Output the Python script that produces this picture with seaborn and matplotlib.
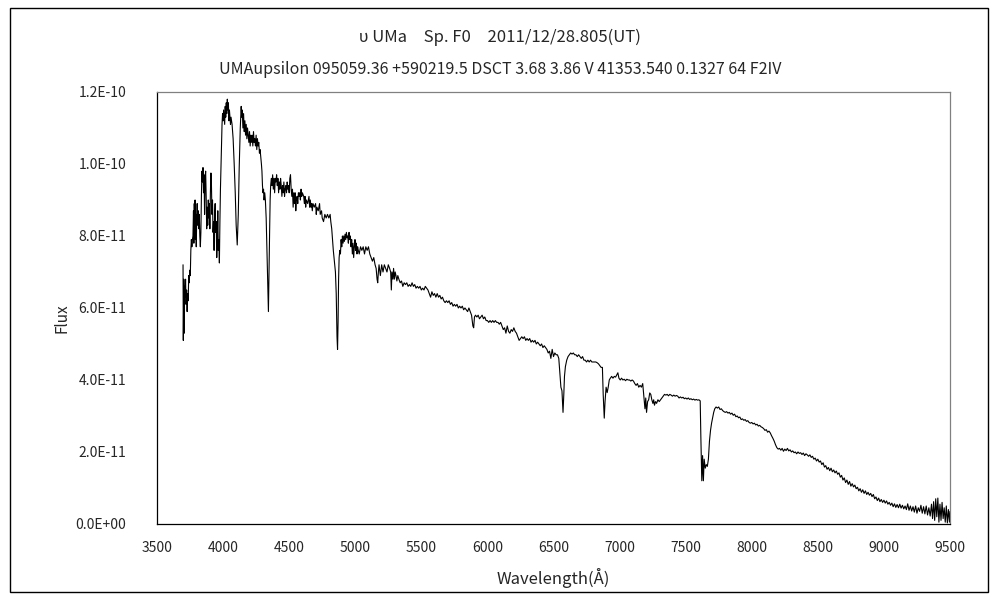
import matplotlib
matplotlib.use("Agg")
import matplotlib.pyplot as plt
import seaborn as sns
import pandas as pd
from matplotlib.patches import Rectangle
from matplotlib.ticker import FuncFormatter

sns.set_style("white")
plt.rcParams['font.family'] = ['Noto Sans CJK JP', 'DejaVu Sans']

# spectrum of upsilon UMa (flux in units of 1e-11)
wl_blue = [3697, 3699, 3703, 3706, 3709, 3713, 3716, 3720, 3724, 3728,
           3732, 3736, 3740, 3744, 3748, 3752, 3756, 3760, 3764, 3768,
           3772, 3776, 3779, 3782, 3785, 3788, 3791, 3794, 3797, 3800,
           3804, 3808, 3812, 3816, 3820, 3824, 3828, 3832, 3836, 3840,
           3844, 3848, 3852, 3856, 3860, 3864, 3868, 3872, 3876, 3880,
           3884, 3888, 3892, 3896, 3900, 3904, 3908, 3912, 3916, 3920,
           3924, 3928, 3932, 3936, 3940, 3944, 3948, 3952, 3956, 3960,
           3964, 3968, 3972, 3976, 3980, 3984, 3988, 3992, 3996, 4000,
           4004, 4008, 4012, 4016, 4020, 4024, 4028, 4032, 4036, 4040,
           4044, 4048, 4052, 4056, 4060, 4064, 4068, 4076, 4084, 4092,
           4099, 4107, 4115, 4122, 4130, 4137, 4141, 4145, 4150, 4155,
           4160, 4165, 4170, 4175, 4180, 4185, 4190, 4195, 4200, 4205,
           4210, 4215, 4220, 4225, 4230, 4235, 4240, 4245, 4250, 4255,
           4260, 4265, 4270, 4275, 4280, 4285, 4290, 4294, 4298, 4302,
           4306, 4310, 4315, 4320, 4326, 4332, 4338, 4343, 4348, 4352,
           4356, 4360, 4365, 4370, 4375, 4380, 4385, 4390, 4395, 4400]
f_blue = [7.2, 5.1, 6.8, 5.3, 6.6, 6.3, 6.8, 6.1, 6.5, 5.9,
          6.4, 6.2, 6.9, 6.7, 7.05, 6.9, 7.6, 7.9, 7.7, 7.9,
          8.0, 8.7, 7.8, 8.9, 8.1, 9.0, 7.9, 8.6, 7.7, 8.4,
          8.9, 8.3, 8.7, 8.2, 8.6, 8.0, 7.7, 8.1, 9.1, 9.8,
          9.5, 9.9, 9.2, 9.7, 8.6, 9.6, 9.8, 9.1, 8.2, 8.8,
          8.3, 9.0, 8.5, 8.9, 8.2, 9.2, 9.75, 9.4, 8.6, 9.0,
          8.1, 8.4, 7.6, 8.6, 8.9, 8.1, 8.4, 7.4, 7.9, 8.7,
          7.6, 7.9, 7.25, 8.4, 9.3, 9.9, 10.6, 11.1, 11.4, 11.2,
          11.5, 11.3, 11.1, 11.6, 11.3, 11.7, 11.4, 11.8, 11.5, 11.7,
          11.2, 11.5, 11.3, 11.1, 11.3, 11.2, 11.1, 10.7, 10.0, 9.2,
          8.3, 7.75, 8.6, 9.9, 11.0, 11.6, 11.3, 11.5, 11.0, 11.4,
          10.9, 11.2, 10.8, 11.1, 10.7, 11.0, 10.8, 10.6, 10.9, 10.5,
          10.8, 10.6, 10.8, 10.5, 10.9, 10.6, 10.7, 10.5, 10.8, 10.4,
          10.7, 10.5, 10.6, 10.3, 10.4, 10.2, 10.0, 9.8, 9.4, 9.2,
          9.3, 9.0, 9.2, 9.0, 8.5, 7.6, 6.6, 5.9, 7.2, 8.1,
          9.0, 9.4, 9.6, 9.4, 9.7, 9.3, 9.6, 9.2, 9.6, 9.5]

wl_green = [4405, 4410, 4415, 4420, 4425, 4430, 4435, 4440, 4445, 4450,
            4455, 4460, 4465, 4470, 4475, 4480, 4485, 4490, 4495, 4500,
            4505, 4510, 4515, 4520, 4525, 4530, 4535, 4540, 4545, 4550,
            4555, 4560, 4565, 4570, 4575, 4580, 4585, 4590, 4595, 4600,
            4610, 4615, 4620, 4625, 4630, 4640, 4650, 4655, 4660, 4665,
            4670, 4675, 4680, 4690, 4700, 4705, 4710, 4720, 4730, 4735,
            4745, 4750, 4760, 4770, 4780, 4790, 4800, 4810, 4815, 4822,
            4828, 4834, 4842, 4850, 4856, 4862, 4866, 4870, 4874, 4878,
            4883, 4888, 4893, 4898, 4903, 4908, 4913, 4918, 4923, 4928,
            4933, 4938, 4943, 4948, 4953, 4958, 4963, 4968, 4973, 4978,
            4983, 4988, 4993, 4998, 5003, 5008, 5013, 5018, 5023, 5030,
            5040, 5050, 5060, 5070, 5080, 5090, 5100, 5110, 5120, 5130,
            5140, 5150, 5158, 5165, 5170, 5175, 5180, 5190, 5200, 5210,
            5220, 5230, 5240, 5250, 5260, 5268, 5273, 5278, 5285, 5290]
f_green = [9.7, 9.4, 9.6, 9.2, 9.5, 9.3, 9.6, 9.4, 9.1, 9.4,
           9.2, 9.5, 9.1, 9.3, 9.4, 9.2, 9.5, 9.3, 9.4, 9.2,
           9.6, 9.7, 9.3, 9.1, 9.3, 8.8, 9.2, 8.9, 9.2, 8.7,
           9.0, 9.1, 8.9, 9.2, 9.1, 9.2, 9.0, 9.3, 9.1, 9.2,
           9.1, 8.9, 9.1, 8.8, 9.0, 8.9, 9.1, 8.8, 9.0, 8.8,
           8.9, 8.7, 8.9, 8.8, 8.9, 8.6, 8.8, 8.7, 8.9, 8.6,
           8.7, 8.5, 8.4, 8.6, 8.5, 8.6, 8.5, 8.6, 8.4, 8.2,
           7.9, 7.6, 7.3, 7.0, 6.4, 5.2, 4.85, 5.6, 6.8, 7.4,
           7.6, 7.5, 7.9, 7.7, 8.0, 7.8, 8.0, 7.85, 8.05, 7.9,
           8.1, 7.95, 8.0, 7.8, 8.1, 7.9, 8.0, 7.7, 7.9, 7.5,
           7.8, 7.4, 7.7, 7.9, 7.6, 7.8, 7.5, 7.7, 7.6, 7.5,
           7.7, 7.6, 7.7, 7.5, 7.7, 7.6, 7.7, 7.5, 7.4, 7.3,
           7.4, 7.2, 7.1, 6.8, 6.7, 7.0, 7.2, 6.9, 7.2, 7.0,
           7.2, 7.1, 7.0, 7.2, 7.1, 7.0, 6.5, 7.0, 6.8, 7.1]

wl_yellow = [5296, 5302, 5308, 5315, 5322, 5330, 5340, 5350, 5360, 5370,
             5380, 5390, 5400, 5410, 5420, 5430, 5440, 5450, 5460, 5470,
             5480, 5490, 5500, 5510, 5520, 5530, 5540, 5550, 5560, 5570,
             5580, 5590, 5600, 5610, 5620, 5630, 5640, 5650, 5660, 5670,
             5680, 5690, 5700, 5710, 5720, 5730, 5740, 5750, 5760, 5770,
             5780, 5790, 5800, 5810, 5820, 5830, 5840, 5850, 5860, 5870,
             5880, 5890, 5896, 5902, 5910, 5920, 5930, 5940, 5950, 5960,
             5970, 5980, 5990, 6000, 6010, 6020, 6030, 6040, 6050, 6060,
             6070, 6080, 6090, 6100, 6110, 6120, 6130, 6140, 6150, 6160,
             6170, 6180, 6190, 6200, 6210, 6220, 6230, 6240, 6250, 6260]
f_yellow = [6.8, 7.0, 6.9, 6.75, 6.9, 6.8, 6.7, 6.75, 6.6, 6.7,
            6.65, 6.7, 6.6, 6.65, 6.6, 6.7, 6.6, 6.65, 6.55, 6.6,
            6.55, 6.6, 6.5, 6.55, 6.5, 6.6, 6.55, 6.5, 6.4, 6.3,
            6.45, 6.35, 6.4, 6.3, 6.4, 6.3, 6.35, 6.25, 6.3, 6.2,
            6.15, 6.2, 6.15, 6.2, 6.1, 6.15, 6.05, 6.1, 6.05, 6.1,
            6.0, 6.05, 6.0, 6.05, 5.95, 6.0, 5.95, 5.9, 6.0, 5.9,
            5.8, 5.5, 5.45, 5.75, 5.8, 5.75, 5.8, 5.7, 5.75, 5.8,
            5.7, 5.75, 5.65, 5.65, 5.6, 5.65, 5.6, 5.65, 5.6, 5.65,
            5.6, 5.6, 5.55, 5.6, 5.5, 5.4, 5.45, 5.3, 5.5, 5.35,
            5.3, 5.4, 5.35, 5.45, 5.35, 5.3, 5.2, 5.1, 5.15, 5.2]

wl_red = [6270, 6280, 6290, 6300, 6310, 6320, 6330, 6340, 6350, 6360,
          6370, 6380, 6390, 6400, 6410, 6420, 6430, 6440, 6450, 6460,
          6470, 6480, 6490, 6500, 6510, 6520, 6530, 6540, 6548, 6556,
          6564, 6572, 6578, 6583, 6590, 6600, 6610, 6620, 6630, 6640,
          6650, 6660, 6670, 6680, 6690, 6700, 6710, 6720, 6730, 6740,
          6750, 6760, 6770, 6780, 6790, 6800, 6810, 6820, 6830, 6840,
          6850, 6860, 6870, 6876, 6884, 6890, 6898, 6906, 6914, 6922,
          6930, 6940, 6950, 6960, 6970, 6980, 6987, 6995, 7005, 7015,
          7025, 7035, 7045, 7055, 7065, 7075, 7085, 7095, 7105, 7115,
          7125, 7135, 7145, 7155, 7165, 7175, 7185, 7192, 7198, 7204,
          7212, 7220, 7228, 7236, 7244, 7252, 7258, 7264, 7272, 7280,
          7290, 7300, 7310, 7320, 7330, 7340, 7350, 7360, 7370, 7380,
          7390, 7400, 7410, 7420, 7430, 7440, 7450, 7460, 7470, 7480,
          7490, 7500, 7510, 7520, 7530, 7540, 7550, 7560, 7570, 7580,
          7590, 7600, 7610, 7615, 7622, 7628, 7634, 7640, 7648, 7656,
          7664, 7672, 7680, 7688, 7696, 7704, 7712, 7720, 7730, 7740,
          7750, 7760, 7770, 7780, 7790, 7800, 7810, 7820, 7830, 7840]
f_red = [5.15, 5.2, 5.1, 5.15, 5.1, 5.15, 5.05, 5.1, 5.05, 5.1,
         5.0, 5.05, 5.0, 4.95, 5.0, 4.9, 4.95, 4.9, 4.85, 4.75,
         4.8, 4.6, 4.85, 4.65, 4.75, 4.7, 4.7, 4.6, 4.2, 3.8,
         3.7, 3.1, 3.6, 4.1, 4.37, 4.55, 4.65, 4.7, 4.75, 4.72,
         4.75, 4.7, 4.7, 4.65, 4.7, 4.65, 4.6, 4.65, 4.55, 4.55,
         4.5, 4.55, 4.5, 4.55, 4.5, 4.5, 4.5, 4.5, 4.48, 4.45,
         4.4, 4.35, 4.35, 3.6, 2.94, 3.4, 3.8, 3.65, 3.8, 4.0,
         4.05, 4.1, 4.05, 4.1, 4.08, 4.15, 4.2, 4.05, 4.0, 4.05,
         4.0, 4.02, 3.98, 4.02, 4.0, 4.0, 3.97, 4.0, 3.97, 3.9,
         3.85, 3.9, 3.8, 3.85, 3.8, 3.9, 3.5, 3.2, 3.5, 3.1,
         3.4, 3.45, 3.64, 3.6, 3.45, 3.35, 3.45, 3.3, 3.4, 3.35,
         3.45, 3.4, 3.45, 3.5, 3.55, 3.6, 3.58, 3.6, 3.56, 3.6,
         3.58, 3.55, 3.58, 3.55, 3.57, 3.55, 3.5, 3.53, 3.5, 3.52,
         3.48, 3.5, 3.47, 3.5, 3.46, 3.48, 3.45, 3.47, 3.44, 3.46,
         3.44, 3.45, 3.42, 2.4, 1.2, 1.9, 1.2, 1.8, 1.55, 1.65,
         1.6, 1.8, 2.3, 2.6, 2.8, 2.95, 3.1, 3.2, 3.25, 3.22,
         3.25, 3.18, 3.2, 3.15, 3.12, 3.1, 3.12, 3.08, 3.1, 3.05]

wl_nir = [7850, 7860, 7870, 7880, 7890, 7900, 7910, 7920, 7930, 7940,
          7950, 7960, 7970, 7980, 7990, 8000, 8010, 8020, 8030, 8040,
          8050, 8060, 8070, 8080, 8090, 8100, 8110, 8120, 8130, 8140,
          8150, 8160, 8170, 8180, 8190, 8200, 8210, 8220, 8230, 8240,
          8250, 8260, 8270, 8280, 8290, 8300, 8310, 8320, 8330, 8340,
          8350, 8360, 8370, 8380, 8390, 8400, 8410, 8420, 8430, 8440,
          8450, 8460, 8470, 8480, 8490, 8500, 8510, 8520, 8530, 8540,
          8550, 8560, 8570, 8580, 8590, 8600, 8610, 8620, 8630, 8640,
          8650, 8660, 8670, 8680, 8690, 8700, 8710, 8720, 8730, 8740,
          8750, 8760, 8770, 8780, 8790, 8800, 8810, 8820, 8830, 8840,
          8850, 8860, 8870, 8880, 8890, 8900, 8910, 8920, 8930, 8940,
          8950, 8960, 8970, 8980, 8990, 9000, 9010, 9020, 9030, 9040,
          9050, 9060, 9070, 9080, 9090, 9100, 9110, 9120, 9130, 9140,
          9150, 9160, 9170, 9180, 9190, 9200, 9210, 9220, 9230, 9240,
          9250, 9260, 9270, 9280, 9290, 9300, 9310, 9320, 9330, 9340,
          9350, 9360, 9368, 9376, 9384, 9392, 9400, 9408, 9416, 9424,
          9432, 9440, 9448, 9456, 9464, 9472, 9480, 9488, 9496, 9500]
f_nir = [3.08, 3.02, 3.05, 2.98, 3.0, 2.95, 2.97, 2.9, 2.92, 2.88,
         2.9, 2.85, 2.87, 2.82, 2.8, 2.82, 2.78, 2.8, 2.75, 2.77,
         2.72, 2.74, 2.7, 2.68, 2.65, 2.6, 2.62, 2.55, 2.58, 2.53,
         2.45, 2.38, 2.3, 2.2, 2.12, 2.08, 2.1, 2.05, 2.1, 2.02,
         2.08, 2.04, 2.1, 2.03, 2.06, 2.0, 2.03, 1.98, 2.0, 1.95,
         2.0, 1.96, 1.98, 1.93, 1.97, 1.9, 1.95, 1.92, 1.88, 1.92,
         1.85, 1.88, 1.8, 1.83, 1.75, 1.8, 1.72, 1.75, 1.65, 1.7,
         1.58, 1.62, 1.52, 1.57, 1.48, 1.55, 1.45, 1.5, 1.42, 1.47,
         1.38, 1.42, 1.3, 1.35, 1.22, 1.28, 1.15, 1.22, 1.1, 1.18,
         1.05, 1.12, 1.03, 1.08, 0.98, 1.02, 0.92, 0.98, 0.88, 0.95,
         0.85, 0.92, 0.82, 0.88, 0.8, 0.85, 0.76, 0.82, 0.7, 0.75,
         0.65, 0.72, 0.62, 0.68, 0.6, 0.66, 0.58, 0.64, 0.55, 0.6,
         0.52, 0.58, 0.48, 0.56, 0.46, 0.54, 0.45, 0.55, 0.44, 0.52,
         0.42, 0.5, 0.4, 0.56, 0.38, 0.5, 0.36, 0.48, 0.33, 0.5,
         0.3, 0.45, 0.35, 0.52, 0.3, 0.48, 0.28, 0.5, 0.25, 0.45,
         0.22, 0.55, 0.15, 0.62, 0.1, 0.7, 0.2, 0.72, 0.05, 0.55,
         0.1, 0.6, 0.15, 0.45, 0.05, 0.5, 0.03, 0.4, 0.05, 0.35]

x_ticks = list(range(3500, 9501, 500))
y_ticks = [0.0, 2e-11, 4e-11, 6e-11, 8e-11, 1.0e-10, 1.2e-10]

title = "υ UMa\u3000Sp. F0\u30002011/12/28.805(UT)"
subtitle = "UMAupsilon 095059.36 +590219.5 DSCT 3.68 3.86 V 41353.540 0.1327 64 F2IV"

wavelength = wl_blue + wl_green + wl_yellow + wl_red + wl_nir
flux = [v * 1e-11 for v in f_blue + f_green + f_yellow + f_red + f_nir]
df = pd.DataFrame({"Wavelength": wavelength, "Flux": flux})

fig = plt.figure(figsize=(10, 6), dpi=100)
ax = fig.add_axes([0.157, 0.1267, 0.793, 0.72])

sns.lineplot(data=df, x="Wavelength", y="Flux", ax=ax, color="black",
             linewidth=0.8, estimator=None, sort=False)

ax.set_xlim(3500, 9500)
ax.set_ylim(0, 1.2e-10)
ax.set_xticks(x_ticks)
ax.set_yticks(y_ticks)
ax.yaxis.set_major_formatter(FuncFormatter(lambda v, p: f"{v:.1E}"))
ax.set_xlabel("")
ax.set_ylabel("")

ax.tick_params(axis="x", direction="in", length=5, width=0.8, pad=12, labelsize=10)
ax.tick_params(axis="y", direction="in", length=4, width=0.8, pad=22, labelsize=10)

for side in ["left", "bottom"]:
    ax.spines[side].set_color("black")
    ax.spines[side].set_linewidth(0.9)
for side in ["top", "right"]:
    ax.spines[side].set_color("#808080")
    ax.spines[side].set_linewidth(0.9)

fig.text(0.5, 1 - 37 / 600, title, ha="center", va="center", fontsize=12)
fig.text(0.5, 1 - 70 / 600, subtitle, ha="center", va="center", fontsize=11.5)
fig.text(0.553, 1 - 578 / 600, "Wavelength(Å)", ha="center", va="center", fontsize=12)
fig.text(0.062, 1 - 318 / 600, "Flux", ha="center", va="center", rotation=90, fontsize=11)

# outer chart frame
fig.patches.append(Rectangle((0.010, 0.0133), 0.978, 0.973, transform=fig.transFigure,
                             fill=False, edgecolor="black", linewidth=1))

fig.savefig("out.png", dpi=100)
